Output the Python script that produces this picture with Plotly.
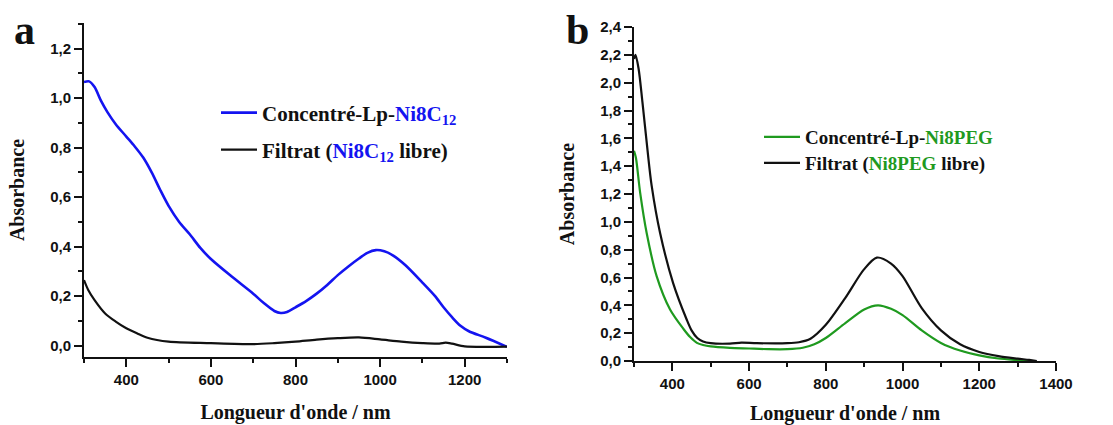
import plotly.graph_objects as go

# ---------------- Data ----------------
# Panel a
wl_a_blue = [300, 312, 325, 340, 355, 375, 400, 420, 440, 460, 480, 500, 525, 550,
             575, 600, 650, 700, 725, 750, 765, 780, 800, 825, 850, 875, 900, 925,
             950, 970, 990, 1010, 1030, 1060, 1100, 1130, 1150, 1170, 1190, 1210,
             1250, 1300]
abs_a_blue = [1.065, 1.068, 1.045, 0.99, 0.945, 0.895, 0.845, 0.805, 0.76, 0.70,
              0.63, 0.565, 0.50, 0.45, 0.395, 0.35, 0.278, 0.21, 0.172, 0.14, 0.132,
              0.136, 0.155, 0.18, 0.21, 0.245, 0.285, 0.32, 0.352, 0.375, 0.386,
              0.381, 0.365, 0.325, 0.255, 0.2, 0.155, 0.115, 0.08, 0.058, 0.032,
              -0.005]

wl_a_black = [300, 310, 325, 350, 375, 400, 425, 450, 500, 600, 700, 750, 800, 850,
              900, 950, 1000, 1050, 1100, 1140, 1155, 1170, 1200, 1250, 1300]
abs_a_black = [0.265, 0.225, 0.184, 0.13, 0.097, 0.07, 0.05, 0.032, 0.016, 0.01,
               0.006, 0.01, 0.016, 0.024, 0.03, 0.033, 0.025, 0.016, 0.01, 0.008,
               0.012, 0.008, -0.003, -0.005, -0.004]

# Panel b
wl_b_green = [300, 305, 316, 333, 359, 394, 429, 447, 464, 480, 500, 550, 600, 650,
              700, 740, 770, 800, 850, 900, 936, 970, 1000, 1050, 1100, 1150, 1200,
              1250, 1300, 1330]
abs_b_green = [1.51, 1.46, 1.21, 0.92, 0.61, 0.37, 0.23, 0.17, 0.13, 0.115, 0.105,
               0.095, 0.09, 0.085, 0.085, 0.095, 0.12, 0.165, 0.27, 0.37, 0.40,
               0.375, 0.33, 0.22, 0.13, 0.075, 0.04, 0.018, 0.006, 0.0]

wl_b_black = [300, 304, 312, 322, 335, 346, 368, 402, 437, 450, 465, 480, 500,
              550, 580, 620, 700, 730, 760, 800, 850, 900, 933, 970, 1000, 1050,
              1100, 1150, 1200, 1250, 1300, 1330, 1350]
abs_b_black = [2.17, 2.2, 2.1, 1.86, 1.52, 1.26, 0.92, 0.56, 0.30, 0.22, 0.165,
               0.14, 0.128, 0.125, 0.132, 0.128, 0.128, 0.135, 0.16, 0.26, 0.45,
               0.66, 0.743, 0.70, 0.61, 0.38, 0.22, 0.12, 0.065, 0.035, 0.017,
               0.008, 0.0]

BLUE = "#1414f0"
GREEN = "#1f9a1f"
BLACK = "#111111"

name_a1 = f"Concentré-Lp-<span style='color:{BLUE}'>Ni8C<sub>12</sub></span>"
name_a2 = f"Filtrat (<span style='color:{BLUE}'>Ni8C<sub>12</sub></span> libre)"
name_b1 = f"Concentré-Lp-<span style='color:{GREEN}'>Ni8PEG</span>"
name_b2 = f"Filtrat (<span style='color:{GREEN}'>Ni8PEG</span> libre)"

SERIF = "Liberation Serif, Times New Roman, serif"
SANS = "Liberation Sans, Arial, sans-serif"

fig = go.Figure()
fig.add_trace(go.Scatter(x=wl_a_blue, y=abs_a_blue, mode="lines", name=name_a1,
                         line=dict(color=BLUE, width=2.6, shape="spline", smoothing=0.8),
                         xaxis="x", yaxis="y", legend="legend"))
fig.add_trace(go.Scatter(x=wl_a_black, y=abs_a_black, mode="lines", name=name_a2,
                         line=dict(color=BLACK, width=2.2, shape="spline", smoothing=0.8),
                         xaxis="x", yaxis="y", legend="legend3"))
fig.add_trace(go.Scatter(x=wl_b_green, y=abs_b_green, mode="lines", name=name_b1,
                         line=dict(color=GREEN, width=2.2, shape="spline", smoothing=0.8),
                         xaxis="x2", yaxis="y2", legend="legend2"))
fig.add_trace(go.Scatter(x=wl_b_black, y=abs_b_black, mode="lines", name=name_b2,
                         line=dict(color=BLACK, width=2.2, shape="spline", smoothing=0.8),
                         xaxis="x2", yaxis="y2", legend="legend4"))

W, H = 1113, 425


def px_x(p):
    return p / W


def px_y(p):
    return 1 - p / H


tickfont = dict(family=SANS, size=15, color="#111111", weight="bold")
titlefont = dict(family=SERIF, size=20, color="#111111", weight="bold")

common_x = dict(showline=True, linecolor=BLACK, linewidth=2, ticks="outside",
                ticklen=8, tickwidth=2, tickcolor=BLACK, showgrid=False,
                zeroline=False, tickfont=tickfont, tickformat="d",
                tick0=0, dtick=200,
                minor=dict(dtick=100, ticks="outside", ticklen=4, tickwidth=2,
                           tickcolor=BLACK, showgrid=False),
                automargin=False)
common_y = dict(showline=True, linecolor=BLACK, linewidth=2, ticks="outside",
                ticklen=8, tickwidth=2, tickcolor=BLACK, showgrid=False,
                zeroline=False, tickfont=tickfont, tickformat=".1f",
                tick0=0, dtick=0.2,
                minor=dict(dtick=0.1, ticks="outside", ticklen=4, tickwidth=2,
                           tickcolor=BLACK, showgrid=False),
                automargin=False)


def leg(xp, yp, size):
    return dict(x=px_x(xp), y=px_y(yp), xanchor="left", yanchor="middle",
                font=dict(family=SERIF, size=size, color=BLACK, weight="bold"),
                bgcolor="rgba(0,0,0,0)", itemwidth=36, borderwidth=0)


fig.update_layout(
    width=W, height=H,
    margin=dict(l=0, r=0, t=0, b=0),
    paper_bgcolor="white", plot_bgcolor="white",
    separators=", ",
    xaxis=dict(common_x, domain=[px_x(84), px_x(507)], range=[300, 1300],
               anchor="y",
               title=dict(text="Longueur d'onde / nm", font=titlefont, standoff=18)),
    yaxis=dict(common_y, domain=[px_y(357), px_y(23)], range=[-0.046, 1.304],
               anchor="x",
               title=dict(text="Absorbance", font=titlefont, standoff=20)),
    xaxis2=dict(common_x, domain=[px_x(634), px_x(1056)], range=[300, 1400],
                anchor="y2",
                title=dict(text="Longueur d'onde / nm", font=titlefont, standoff=18)),
    yaxis2=dict(common_y, domain=[px_y(361), px_y(27)], range=[0, 2.4],
                anchor="x2",
                title=dict(text="Absorbance", font=titlefont, standoff=20)),
    legend=leg(216, 113, 21),
    legend3=leg(216, 150, 21),
    legend2=leg(759, 137, 19),
    legend4=leg(759, 163, 19),
    showlegend=True,
    annotations=[
        dict(text="a", x=px_x(24), y=px_y(30), xref="paper", yref="paper",
             showarrow=False, xanchor="center", yanchor="middle",
             font=dict(family=SERIF, size=42, color=BLACK, weight="bold")),
        dict(text="b", x=px_x(577), y=px_y(30), xref="paper", yref="paper",
             showarrow=False, xanchor="center", yanchor="middle",
             font=dict(family=SERIF, size=42, color=BLACK, weight="bold")),
    ],
)

fig.write_html("out.html", config={"displayModeBar": False},
               post_script="document.body.style.margin='0';")
